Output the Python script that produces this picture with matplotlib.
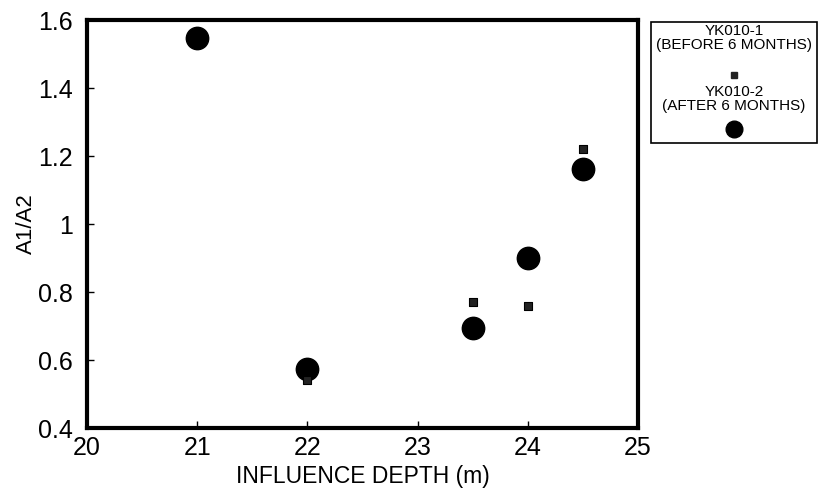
import matplotlib
matplotlib.use("Agg")
import matplotlib.pyplot as plt
from matplotlib.lines import Line2D

plt.rcParams['font.family'] = ['Liberation Sans', 'DejaVu Sans']

# YK010-1 (before 6 months)
depth_before = [22.0, 23.5, 24.0, 24.5]
ratio_before = [0.54, 0.77, 0.76, 1.22]

# YK010-2 (after 6 months)
depth_after = [21.0, 22.0, 23.5, 24.0, 24.5]
ratio_after = [1.547, 0.575, 0.695, 0.90, 1.163]

x_ticks = [20, 21, 22, 23, 24, 25]
y_ticks = [0.4, 0.6, 0.8, 1.0, 1.2, 1.4, 1.6]
y_tick_labels = ['0.4', '0.6', '0.8', '1', '1.2', '1.4', '1.6']

fig = plt.figure(figsize=(8.19, 4.95), dpi=100)
ax = fig.add_axes([87 / 819, 1 - 428 / 495, (638 - 87) / 819, (428 - 20) / 495])

ax.scatter(depth_before, ratio_before, marker='s', s=30, color='#222222',
           edgecolors='black', linewidths=0.8, zorder=3)
ax.scatter(depth_after, ratio_after, marker='o', s=260, color='black', zorder=2)

ax.set_xlim(20, 25)
ax.set_ylim(0.4, 1.6)
ax.set_xticks(x_ticks)
ax.set_yticks(y_ticks)
ax.set_yticklabels(y_tick_labels)
ax.tick_params(direction='in', length=5, width=1, labelsize=18)
ax.tick_params(axis='x', pad=6)
ax.tick_params(axis='y', pad=10)
for s in ax.spines.values():
    s.set_linewidth(3)

ax.set_xlabel('INFLUENCE DEPTH (m)', fontsize=16.5, labelpad=3)
ax.set_ylabel('A1/A2', fontsize=16, labelpad=1)

# Legend box drawn on the figure
lx0, ly0, lx1, ly1 = 651, 22, 817, 143
fig.patches.append(plt.Rectangle((lx0 / 819, 1 - ly1 / 495), (lx1 - lx0) / 819, (ly1 - ly0) / 495,
                                 transform=fig.transFigure, fill=False, edgecolor='black', linewidth=1.2))
cx = 0.5 * (lx0 + lx1) / 819
fig.text(cx, 1 - 38 / 495, 'YK010-1\n(BEFORE 6 MONTHS)', ha='center', va='center',
         fontsize=11, linespacing=1.05)
fig.add_artist(Line2D([cx], [1 - 75 / 495], marker='s', markersize=5, color='#222222',
                      transform=fig.transFigure))
fig.text(cx, 1 - 99 / 495, 'YK010-2\n(AFTER 6 MONTHS)', ha='center', va='center',
         fontsize=11, linespacing=1.05)
fig.add_artist(Line2D([cx], [1 - 129 / 495], marker='o', markersize=12, color='black',
                      transform=fig.transFigure))

fig.savefig('out.png', dpi=100)
